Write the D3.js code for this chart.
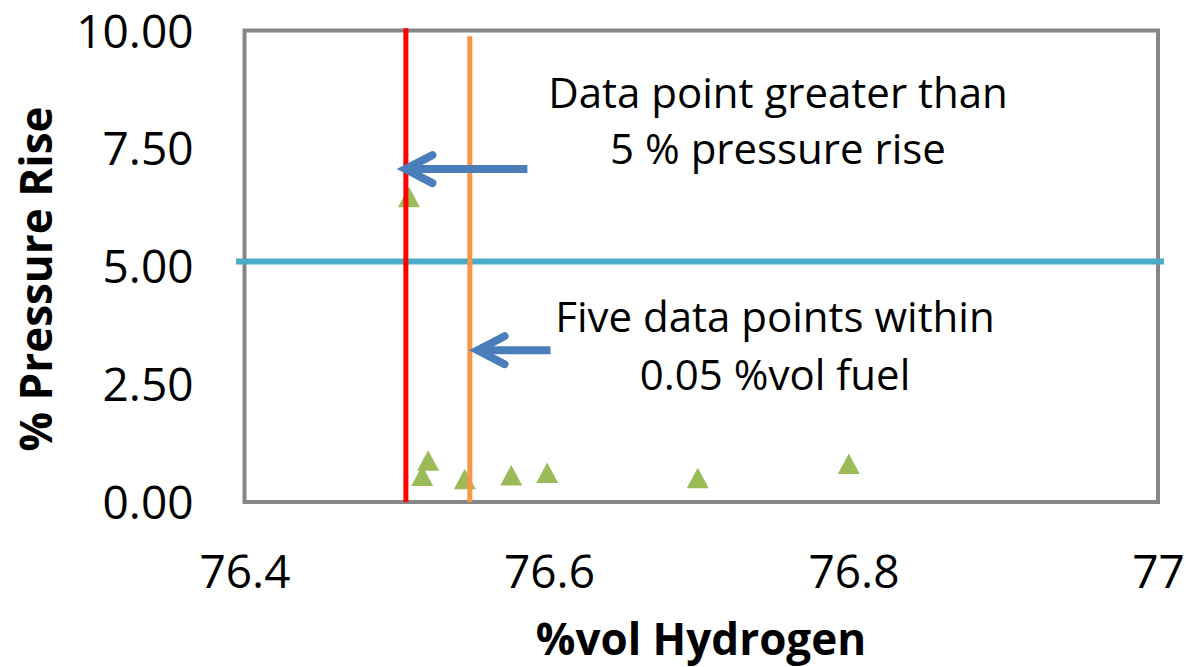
<!DOCTYPE html>
<html lang="en">
<head>
<meta charset="utf-8">
<title>% Pressure Rise vs %vol Hydrogen</title>
<script src="https://d3js.org/d3.v7.min.js"></script>
<style>
  body { margin: 0; background: #fff; }
  text { font-family: "Open Sans", sans-serif; fill: #000; }
</style>
</head>
<body>
<script>
// data
var hydrogen = [76.508, 76.5167, 76.5206, 76.5447, 76.5752, 76.5988, 76.6977, 76.7969];
var pressureRise = [6.40, 0.49, 0.81, 0.42, 0.50, 0.55, 0.44, 0.74];

var xTicks = [76.4, 76.6, 76.8, 77];
var yTicks = [0, 2.5, 5, 7.5, 10];

// reference lines drawn on the chart
var limitPressure = 5.1;            // blue horizontal line
var limitSpan = [76.3944, 77.0039];
var redX = 76.506, redSpan = [0, 10.05];
var orangeX = 76.548, orangeSpan = [0, 9.88];

// arrows: [start x, tip x, y]
var arrows = [
  [76.5858, 76.5024, 7.06],
  [76.601, 76.5498, 3.22]
];

var notes = [
  { lines: ["Data point greater than", "5 % pressure rise"], x: 778, y: [108, 164] },
  { lines: ["Five data points within", "0.05 %vol fuel"], x: 775, y: [332, 390] }
];

var w = 1186, h = 667;

var svg = d3.select("body").append("svg")
  .attr("width", w)
  .attr("height", h);

var x = d3.scaleLinear().domain([76.4, 77]).range([244.5, 1158]);
var y = d3.scaleLinear().domain([0, 10]).range([502, 30.5]);

// plot frame
svg.append("rect")
  .attr("x", x(76.4)).attr("y", y(10))
  .attr("width", x(77) - x(76.4)).attr("height", y(0) - y(10))
  .attr("fill", "none")
  .attr("stroke", "#868686")
  .attr("stroke-width", 4);

// axes
var yAxis = svg.append("g")
  .attr("transform", "translate(" + x(76.4) + ",0)")
  .call(d3.axisLeft(y).tickValues(yTicks).tickFormat(d3.format(".2f")).tickSize(0).tickPadding(51));
yAxis.select(".domain").remove();
yAxis.selectAll("text")
  .attr("dy", "0.36em")
  .style("font-family", "'Open Sans', sans-serif")
  .style("font-size", "46px")
  .attr("fill", "#000");

var xAxis = svg.append("g")
  .attr("transform", "translate(0," + y(0) + ")")
  .call(d3.axisBottom(x).tickValues(xTicks).tickFormat(d3.format("")).tickSize(0).tickPadding(53));
xAxis.select(".domain").remove();
xAxis.selectAll("text")
  .style("font-family", "'Open Sans', sans-serif")
  .style("font-size", "46px")
  .attr("fill", "#000");

// markers
var tri = "M0,-13.5L11,7L-11,7Z";
svg.selectAll("path.pt")
  .data(hydrogen)
  .enter()
  .append("path")
  .attr("class", "pt")
  .attr("d", tri)
  .attr("transform", function(d, i) {
    return "translate(" + x(d) + "," + y(pressureRise[i]) + ")";
  })
  .attr("fill", "#9BBB59");

// blue 5 % line
svg.append("line")
  .attr("x1", x(limitSpan[0])).attr("x2", x(limitSpan[1]))
  .attr("y1", y(limitPressure)).attr("y2", y(limitPressure))
  .attr("stroke", "#4BACC6")
  .attr("stroke-width", 6);

// vertical lines
svg.append("line")
  .attr("x1", x(redX)).attr("x2", x(redX))
  .attr("y1", y(redSpan[0])).attr("y2", y(redSpan[1]))
  .attr("stroke", "#FF0000")
  .attr("stroke-width", 5);

svg.append("line")
  .attr("x1", x(orangeX)).attr("x2", x(orangeX))
  .attr("y1", y(orangeSpan[0])).attr("y2", y(orangeSpan[1]))
  .attr("stroke", "#F79646")
  .attr("stroke-width", 5);

// arrows
var arrowG = svg.selectAll("g.arrow")
  .data(arrows)
  .enter()
  .append("g")
  .attr("class", "arrow");

arrowG.append("line")
  .attr("x1", function(d) { return x(d[0]); })
  .attr("x2", function(d) { return x(d[1]) + 8; })
  .attr("y1", function(d) { return y(d[2]); })
  .attr("y2", function(d) { return y(d[2]); })
  .attr("stroke", "#4A7EBB")
  .attr("stroke-width", 8);

arrowG.append("path")
  .attr("d", function(d) {
    var tx = x(d[1]), ty = y(d[2]);
    return "M" + (tx + 32) + "," + (ty - 14) + "L" + (tx + 5) + "," + ty + "L" + (tx + 32) + "," + (ty + 14);
  })
  .attr("fill", "none")
  .attr("stroke", "#4A7EBB")
  .attr("stroke-width", 8)
  .attr("stroke-linecap", "round")
  .attr("stroke-linejoin", "miter");

// annotation text
notes.forEach(function(n) {
  n.lines.forEach(function(t, i) {
    svg.append("text")
      .attr("x", n.x)
      .attr("y", n.y[i])
      .attr("text-anchor", "middle")
      .style("font-size", "42px")
      .text(t);
  });
});

// axis titles
svg.append("text")
  .attr("x", 701)
  .attr("y", 655)
  .attr("text-anchor", "middle")
  .style("font-size", "44px")
  .style("font-weight", "bold")
  .text("%vol Hydrogen");

svg.append("text")
  .attr("transform", "translate(52,279) rotate(-90)")
  .attr("text-anchor", "middle")
  .style("font-size", "44px")
  .style("font-weight", "bold")
  .text("% Pressure Rise");
</script>
</body>
</html>
